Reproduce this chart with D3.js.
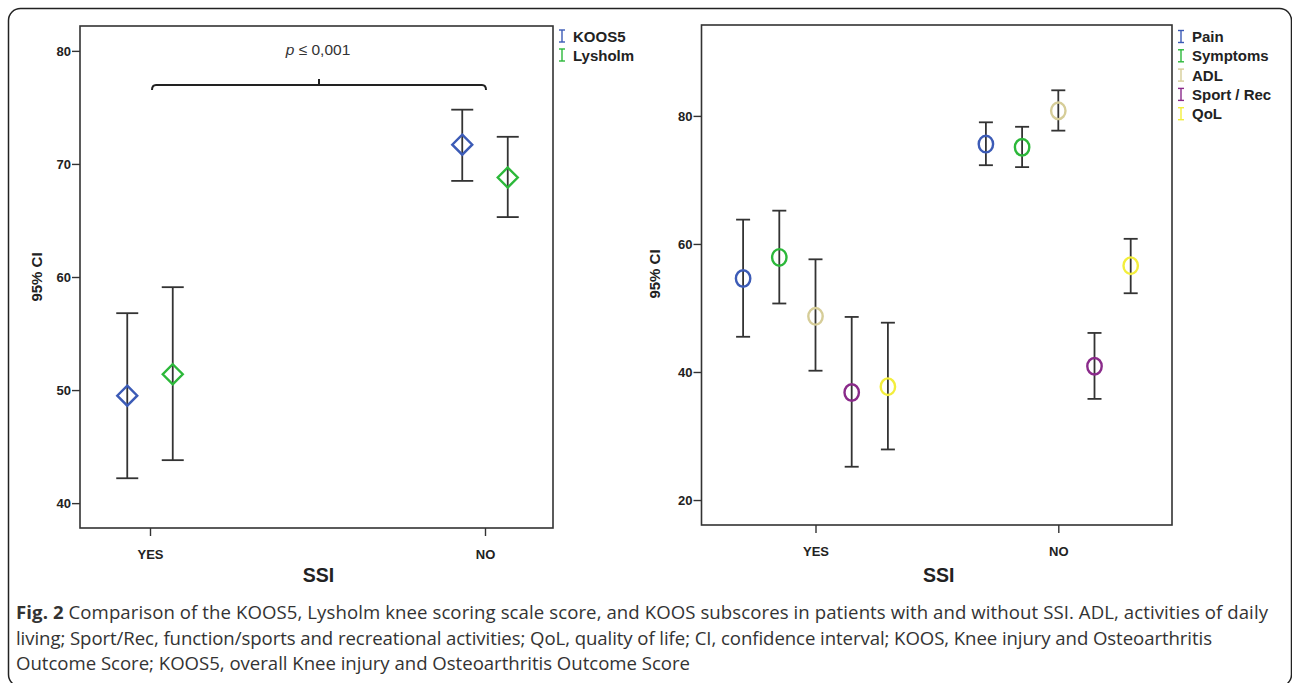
<!DOCTYPE html>
<html>
<head>
<meta charset="utf-8">
<script src="https://cdn.jsdelivr.net/npm/d3@7"></script>
<style>
  body { margin: 0; background: #fff; }
  svg { display: block; }
  .tick text, .lab { font-family: "Liberation Sans", Arial, sans-serif; font-weight: bold; fill: #222; }
  .cap { font-family: "Open Sans", "Noto Sans", sans-serif; fill: #333; font-size: 18.6px; }
</style>
</head>
<body>
<div id="chart"></div>
<script>
// categories
var groups = ['YES', 'NO'];

// left panel: [lower, mean, upper] per group
var leftSeries = ['KOOS5', 'Lysholm'];
var koos5CI = [[42.2, 49.5, 56.8], [68.5, 71.7, 74.8]];
var lysholmCI = [[43.8, 51.4, 59.1], [65.3, 68.8, 72.4]];
var leftTicks = [40, 50, 60, 70, 80];

// right panel: KOOS subscores
var rightSeries = ['Pain', 'Symptoms', 'ADL', 'Sport / Rec', 'QoL'];
var painCI = [[45.5, 54.6, 63.8], [72.3, 75.6, 79.0]];
var symptomsCI = [[50.7, 57.9, 65.2], [72.0, 75.1, 78.3]];
var adlCI = [[40.2, 48.7, 57.6], [77.7, 80.8, 84.0]];
var sportCI = [[25.2, 36.8, 48.6], [35.8, 40.9, 46.1]];
var qolCI = [[27.9, 37.7, 47.7], [52.3, 56.6, 60.8]];
var rightTicks = [20, 40, 60, 80];

var captionLines = [
  'Comparison of the KOOS5, Lysholm knee scoring scale score, and KOOS subscores in patients with and without SSI. ADL, activities of daily',
  'living; Sport/Rec, function/sports and recreational activities; QoL, quality of life; CI, confidence interval; KOOS, Knee injury and Osteoarthritis',
  'Outcome Score; KOOS5, overall Knee injury and Osteoarthritis Outcome Score'
];
var captionWidths = [1252, 1196, 674];

var leftColors = ['#3c5bb6', '#2cb83a'];
var rightColors = ['#3c5bb6', '#2cb83a', '#d6cd98', '#8a2a8a', '#f3ee3c'];

var W = 1292, H = 683, barColor = '#333';

var svg = d3.select('#chart').append('svg')
    .attr('width', W)
    .attr('height', H);

// outer rounded frame
svg.append('rect')
  .attr('x', 8.5).attr('y', 8.5)
  .attr('width', 1283).attr('height', 678)
  .attr('rx', 12)
  .attr('fill', 'none')
  .attr('stroke', '#222')
  .attr('stroke-width', 1.5);

function panel(opt) {
  var g = svg.append('g');
  var y = d3.scaleLinear().domain(opt.yDomain).range([opt.y1, opt.y0]);
  var x = d3.scalePoint().domain(groups).range(opt.xRange);

  // frame
  g.append('rect')
    .attr('x', opt.x0).attr('y', opt.y0)
    .attr('width', opt.x1 - opt.x0).attr('height', opt.y1 - opt.y0)
    .attr('fill', 'none').attr('stroke', barColor).attr('stroke-width', 1.6);

  var ya = g.append('g')
    .attr('transform', 'translate(' + opt.x0 + ',0)')
    .call(d3.axisLeft(y).tickValues(opt.ticks).tickSize(8).tickPadding(1));
  ya.select('.domain').remove();
  ya.selectAll('line').attr('stroke', barColor).attr('stroke-width', 1.4);
  ya.selectAll('text').style('font-size', '13px');

  var xa = g.append('g')
    .attr('transform', 'translate(0,' + opt.y1 + ')')
    .call(d3.axisBottom(x).tickSize(8).tickPadding(14));
  xa.select('.domain').remove();
  xa.selectAll('line').attr('stroke', barColor).attr('stroke-width', 1.4);
  xa.selectAll('text').style('font-size', '13px');

  g.append('text').attr('class', 'lab')
    .attr('x', (opt.x0 + opt.x1) / 2 + opt.ssiShift).attr('y', 582)
    .attr('text-anchor', 'middle')
    .style('font-size', '19.5px')
    .text('SSI');

  g.append('text').attr('class', 'lab')
    .attr('transform', 'translate(' + (opt.x0 - opt.labelDX) + ',' + opt.labelY + ') rotate(-90)')
    .attr('text-anchor', 'middle')
    .style('font-size', '15px')
    .text('95% CI');

  var n = opt.series.length;
  opt.series.forEach(function (name, i) {
    var off = (i - (n - 1) / 2) * opt.step;
    var data = opt.data[i].map(function (d, j) { return { g: groups[j], lo: d[0], m: d[1], hi: d[2] }; });
    var s = g.append('g');
    s.selectAll('line.bar').data(data).enter().append('line')
      .attr('x1', function (d) { return x(d.g) + off; })
      .attr('x2', function (d) { return x(d.g) + off; })
      .attr('y1', function (d) { return y(d.lo); })
      .attr('y2', function (d) { return y(d.hi); })
      .attr('stroke', barColor).attr('stroke-width', 1.8);
    ['lo', 'hi'].forEach(function (k) {
      s.selectAll('line.' + k).data(data).enter().append('line')
        .attr('x1', function (d) { return x(d.g) + off - opt.capW / 2; })
        .attr('x2', function (d) { return x(d.g) + off + opt.capW / 2; })
        .attr('y1', function (d) { return y(d[k]); })
        .attr('y2', function (d) { return y(d[k]); })
        .attr('stroke', barColor).attr('stroke-width', 1.8);
    });
    if (opt.shape === 'diamond') {
      s.selectAll('path.pt').data(data).enter().append('path')
        .attr('d', function (d) {
          var cx = x(d.g) + off, cy = y(d.m);
          return 'M' + cx + ',' + (cy - 10) + 'L' + (cx + 10) + ',' + cy + 'L' + cx + ',' + (cy + 10) + 'L' + (cx - 10) + ',' + cy + 'Z';
        })
        .attr('fill', 'none').attr('stroke', opt.colors[i]).attr('stroke-width', 2.4);
    } else {
      s.selectAll('ellipse.pt').data(data).enter().append('ellipse')
        .attr('cx', function (d) { return x(d.g) + off; })
        .attr('cy', function (d) { return y(d.m); })
        .attr('rx', 7.2).attr('ry', 8.3)
        .attr('fill', 'none').attr('stroke', opt.colors[i]).attr('stroke-width', 2.4);
    }

    // legend
    var ly = opt.legendY + i * opt.legendStep;
    var lx = opt.x1 + opt.legendDX;
    var lg = g.append('g').attr('stroke', opt.colors[i]).attr('stroke-width', 1.4);
    lg.append('line').attr('x1', lx).attr('x2', lx).attr('y1', ly - 6).attr('y2', ly + 6);
    lg.append('line').attr('x1', lx - 3).attr('x2', lx + 3).attr('y1', ly - 6).attr('y2', ly - 6);
    lg.append('line').attr('x1', lx - 3).attr('x2', lx + 3).attr('y1', ly + 6).attr('y2', ly + 6);
    g.append('text').attr('class', 'lab')
      .attr('x', lx + 11).attr('y', ly + 5.5)
      .style('font-size', '15px')
      .text(name);
  });
  return { x: x, y: y, g: g };
}

var left = panel({
  x0: 80, x1: 553, y0: 26, y1: 528,
  yDomain: [37.8, 82.2], ticks: leftTicks,
  xRange: [150, 485], series: leftSeries,
  data: [koos5CI, lysholmCI], colors: leftColors,
  step: 45.5, capW: 22, shape: 'diamond',
  legendY: 36, legendStep: 19, legendDX: 9,
  labelY: 277, labelDX: 38, ssiShift: 2
});

panel({
  x0: 701.5, x1: 1172, y0: 25, y1: 525,
  yDomain: [16.1, 94.2], ticks: rightTicks,
  xRange: [815.5, 1058.3], series: rightSeries,
  data: [painCI, symptomsCI, adlCI, sportCI, qolCI], colors: rightColors,
  step: 36.2, capW: 14, shape: 'circle',
  legendY: 36.5, legendStep: 19.3, legendDX: 9,
  labelY: 274, labelDX: 42, ssiShift: 2
});

// significance bracket
var bx0 = left.x('YES') + 2, bx1 = left.x('NO') + 1, by = 85, bm = (bx0 + bx1) / 2;
svg.append('path')
  .attr('d', 'M' + bx0 + ',' + (by + 5) + 'Q' + bx0 + ',' + by + ' ' + (bx0 + 4) + ',' + by +
             'L' + (bx1 - 4) + ',' + by + 'Q' + bx1 + ',' + by + ' ' + bx1 + ',' + (by + 5) +
             'M' + bm + ',' + by + 'L' + bm + ',' + (by - 6))
  .attr('fill', 'none').attr('stroke', '#222').attr('stroke-width', 2);

var pt = svg.append('text')
  .attr('x', bm - 1).attr('y', 55)
  .attr('text-anchor', 'middle')
  .style('font-family', '"Liberation Sans", Arial, sans-serif')
  .style('font-size', '15.5px')
  .style('fill', '#333');
pt.append('tspan').style('font-style', 'italic').text('p');
pt.append('tspan').text(' \u2264 0,001');

// caption
var cap = svg.append('g');
var baseY = [619, 645, 670];
captionLines.forEach(function (line, i) {
  var t = cap.append('text').attr('class', 'cap')
    .attr('x', 16).attr('y', baseY[i])
    .attr('textLength', captionWidths[i])
    .attr('lengthAdjust', 'spacing');
  if (i === 0) {
    t.append('tspan').style('font-weight', 'bold').text('Fig. 2');
    t.append('tspan').text(' ' + line);
  } else {
    t.text(line);
  }
});
</script>
</body>
</html>
